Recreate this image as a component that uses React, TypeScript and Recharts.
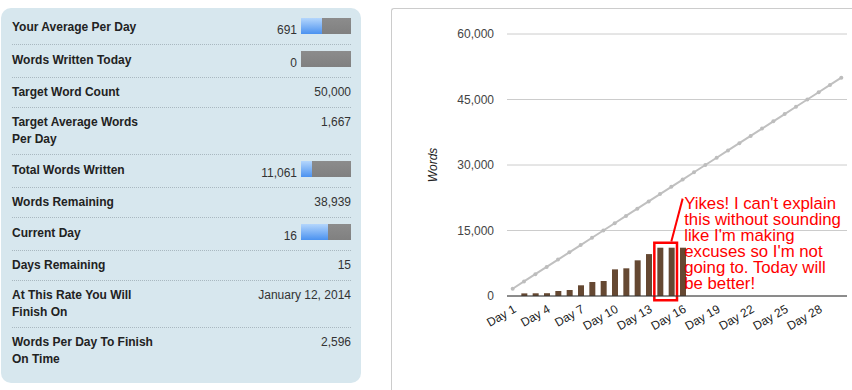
import { Bar, CartesianGrid, ComposedChart, Line, ReferenceArea, ReferenceDot, ReferenceLine, XAxis, YAxis } from 'recharts';

const days = [
  'Day 1', 'Day 2', 'Day 3', 'Day 4', 'Day 5', 'Day 6', 'Day 7', 'Day 8', 'Day 9', 'Day 10',
  'Day 11', 'Day 12', 'Day 13', 'Day 14', 'Day 15', 'Day 16', 'Day 17', 'Day 18', 'Day 19', 'Day 20',
  'Day 21', 'Day 22', 'Day 23', 'Day 24', 'Day 25', 'Day 26', 'Day 27', 'Day 28', 'Day 29', 'Day 30',
];

// cumulative words written
const wordsWritten = [
  0, 600, 620, 640, 1150, 1370, 2450, 3200, 3430, 6100,
  6340, 8170, 9600, 11061, 11061, 11061, null, null, null, null,
  null, null, null, null, null, null, null, null, null, null,
];

// target pace towards 50,000
const targetWords = [
  1667, 3333, 5000, 6667, 8333, 10000, 11667, 13333, 15000, 16667,
  18333, 20000, 21667, 23333, 25000, 26667, 28333, 30000, 31667, 33333,
  35000, 36667, 38333, 40000, 41667, 43333, 45000, 46667, 48333, 50000,
];

const yTicks = [0, 15000, 30000, 45000, 60000];

const noteLines = [
  "Yikes! I can't explain",
  'this without sounding',
  "like I'm making",
  "excuses so I'm not",
  'going to. Today will',
  'be better!',
];

type Stat = { label: string[]; value: string; progress?: number };

const stats: Stat[] = [
  { label: ['Your Average Per Day'], value: '691', progress: 691 / 1667 },
  { label: ['Words Written Today'], value: '0', progress: 0 },
  { label: ['Target Word Count'], value: '50,000' },
  { label: ['Target Average Words', 'Per Day'], value: '1,667' },
  { label: ['Total Words Written'], value: '11,061', progress: 11061 / 50000 },
  { label: ['Words Remaining'], value: '38,939' },
  { label: ['Current Day'], value: '16', progress: 16 / 30 },
  { label: ['Days Remaining'], value: '15' },
  { label: ['At This Rate You Will', 'Finish On'], value: 'January 12, 2014' },
  { label: ['Words Per Day To Finish', 'On Time'], value: '2,596' },
];

const rowHeights = [33, 33, 30, 47, 33, 30, 33, 30, 47, 55];

const data = days.map((day, i) => ({
  day,
  words: wordsWritten[i],
  target: targetWords[i],
}));

const font = "Arial, 'Liberation Sans', sans-serif";

function ProgressBar({ pct }: { pct: number }) {
  return (
    <span
      style={{
        display: 'inline-block',
        width: 50,
        height: 16,
        marginLeft: 4,
        background: 'linear-gradient(#8c8c8c, #808080)',
        position: 'relative',
      }}
    >
      <span
        style={{
          position: 'absolute',
          left: 0,
          top: 0,
          height: 16,
          width: Math.round(50 * pct),
          background: 'linear-gradient(#b4d6fc, #4b92f0)',
        }}
      />
    </span>
  );
}

function StatsPanel() {
  return (
    <div
      style={{
        position: 'absolute',
        left: 1,
        top: 8,
        width: 360,
        height: 375,
        boxSizing: 'border-box',
        background: '#d7e7ee',
        borderRadius: 10,
        padding: '4px 10px 0 11px',
        fontFamily: font,
        fontSize: 12,
      }}
    >
      {stats.map((s, i) => (
        <div
          key={i}
          style={{
            height: rowHeights[i],
            boxSizing: 'border-box',
            borderBottom: i < stats.length - 1 ? '1px dotted #a9b8c0' : 'none',
            display: 'flex',
            justifyContent: 'space-between',
            alignItems: 'flex-start',
            paddingTop: 6,
          }}
        >
          <div style={{ fontWeight: 'bold', color: '#222', lineHeight: '17px', marginTop: s.progress === undefined ? 0 : 1 }}>
            {s.label.map((l, j) => (
              <div key={j}>{l}</div>
            ))}
          </div>
          <div style={{ color: '#333', lineHeight: s.progress === undefined ? '17px' : 'normal', whiteSpace: 'nowrap' }}>
            {s.value}
            {s.progress !== undefined && <ProgressBar pct={s.progress} />}
          </div>
        </div>
      ))}
    </div>
  );
}

const WordsLabel = (props: any) => {
  const vb = props.viewBox || {};
  const x = (vb.x || 0) + 41;
  const y = (vb.y || 0) + (vb.height || 0) / 2;
  return (
    <text x={x} y={y} transform={`rotate(-90, ${x}, ${y})`} textAnchor="middle" dominantBaseline="central"
      fontSize={12} fontStyle="italic" fill="#222" fontFamily={font}>
      Words
    </text>
  );
};

const NoteLabel = (props: any) => {
  const vb = props.viewBox || {};
  const x = (vb.x || 0) + (vb.width || 0) / 2 + 1.5;
  const y = (vb.y || 0) + (vb.height || 0) / 2 + 10.5;
  return (
    <text x={x} y={y} fontSize={16.8} fill="#ff0000" fontFamily={font}>
      {noteLines.map((l, i) => (
        <tspan key={i} x={x} dy={i === 0 ? 0 : 16}>{l}</tspan>
      ))}
    </text>
  );
};

function WordsChart() {
  return (
    <div
      style={{
        position: 'absolute',
        left: 391,
        top: 8,
        width: 461,
        height: 382,
        boxSizing: 'border-box',
        borderLeft: '1px solid #cccccc',
        borderTop: '1px solid #cccccc',
        borderTopLeftRadius: 3,
        background: '#fff',
      }}
    >
      <ComposedChart width={460} height={381} data={data} margin={{ top: 25, right: 5, left: 0, bottom: 0 }}>
        <CartesianGrid vertical={false} stroke="#cccccc" />
        <XAxis
          dataKey="day"
          interval={2}
          angle={-30}
          textAnchor="end"
          height={94}
          tickLine={false}
          axisLine={{ stroke: '#333333' }}
          tick={{ fontSize: 12, fill: '#222', fontFamily: font }}
        />
        <YAxis
          width={115}
          domain={[0, 60000]}
          ticks={yTicks}
          axisLine={false}
          tickLine={false}
          tickSize={0}
          tickMargin={13}
          tickFormatter={(v: number) => v.toLocaleString('en-US')}
          tick={{ fontSize: 12, fill: '#444', fontFamily: font }}
          label={WordsLabel}
        />
        <Bar dataKey="words" fill="#654832" barSize={6} isAnimationActive={false} />
        <Line
          type="linear"
          dataKey="target"
          stroke="#c0c0c0"
          strokeWidth={2}
          dot={{ r: 2, fill: '#bdbdbd', stroke: 'none' }}
          activeDot={false}
          isAnimationActive={false}
        />
        <ReferenceArea
          x1="Day 14"
          x2="Day 15"
          y1={-1000}
          y2={12200}
          ifOverflow="visible"
          stroke="#ff0000"
          strokeWidth={2.5}
          fill="none"
          fillOpacity={0}
        />
        <ReferenceLine
          segment={[{ x: 'Day 15', y: 12500 }, { x: 'Day 16', y: 22300 }]}
          ifOverflow="visible"
          stroke="#ff0000"
          strokeWidth={2}
        />
        <ReferenceDot x="Day 16" y={22300} r={1} fill="none" stroke="none" ifOverflow="visible" label={NoteLabel} />
      </ComposedChart>
    </div>
  );
}

export default function App() {
  return (
    <div style={{ position: 'absolute', left: 0, top: 0, width: 852, height: 390, background: '#fff' }}>
      <StatsPanel />
      <WordsChart />
    </div>
  );
}
